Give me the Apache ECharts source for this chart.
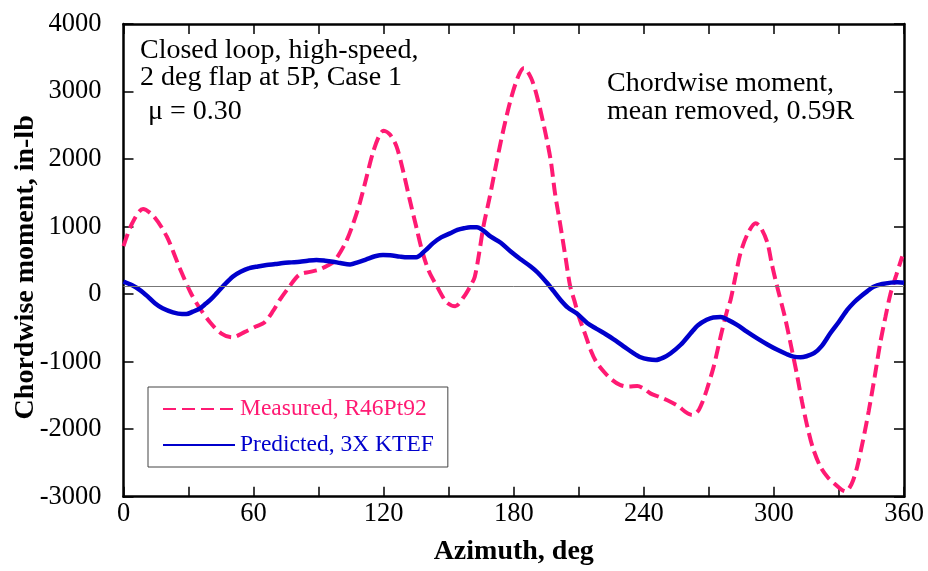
<!DOCTYPE html>
<html>
<head>
<meta charset="utf-8">
<script src="https://cdn.jsdelivr.net/npm/echarts@6/dist/echarts.min.js"></script>
<style>
  html, body { margin: 0; padding: 0; background: #fff; }
  #chart { width: 928px; height: 571px; }
</style>
</head>
<body>
<div id="chart"></div>
<script>
// measured chordwise moment (pink dashed)
var measuredAz = [0, 4, 9, 14, 20, 26, 31, 35, 40, 45, 50, 56, 61, 65, 69, 72, 76, 81, 86, 90,
  94, 97, 100, 103, 106, 109, 112, 115, 118, 120, 123, 126, 129, 132, 135, 138, 141, 144.5, 149, 153,
  157, 160, 162, 164, 166, 169, 172, 175, 178.6, 182, 184.7, 188, 190.7, 194, 197, 199, 201.6, 204, 206, 208,
  210, 213, 215.5, 218, 221.6, 225, 229, 233, 237, 240, 243, 247, 252, 256, 259, 262.3, 265, 267, 269, 272,
  274, 276, 278.5, 280, 282, 284.6, 288, 291.6, 294, 297, 299, 301.5, 305, 308, 310.8, 313, 315.4, 318, 321.5, 325,
  327.7, 331, 333, 335, 336.5, 338.4, 341, 343.8, 346.5, 349, 351.5, 353.8, 356.5, 359.2];
var measuredVal = [710, 1050, 1260, 1150, 850, 380, 20, -200, -420, -580, -640, -560, -480, -420, -250, -90, 90, 285, 330, 360,
  420, 480, 620, 800, 1050, 1350, 1720, 2090, 2350, 2420, 2360, 2180, 1820, 1400, 1000, 610, 330, 120, -120, -180,
  -40, 120, 255, 600, 1000, 1450, 1940, 2400, 2880, 3220, 3350, 3200, 2930, 2480, 1990, 1500, 1000, 520, 120, -100,
  -330, -600, -830, -1000, -1150, -1260, -1345, -1370, -1360, -1400, -1470, -1520, -1590, -1660, -1740, -1790, -1730, -1600, -1420, -1100,
  -830, -550, -235, -86, 220, 610, 900, 1050, 980, 760, 450, 110, -330, -780, -1220, -1600, -1960, -2280, -2560, -2720,
  -2800, -2890, -2920, -2860, -2760, -2560, -2180, -1720, -1220, -730, -330, 10, 290, 560];

// predicted, 3X KTEF (blue solid)
var predictedAz = [0, 4, 7.6, 11, 14.5, 18, 22.8, 27, 29, 32, 35.3, 38, 40, 43, 46, 50.5, 54, 58, 62, 66,
  70, 73.6, 77.5, 81.4, 85, 89, 93, 96.6, 100, 104.5, 108, 112, 116, 119.7, 123, 127.5, 131, 135, 139, 142.8,
  146.5, 150.6, 154, 157, 160, 163, 166, 169.4, 174, 178.6, 183, 187.8, 191, 195.5, 198.5, 201.6, 205, 209, 214, 218,
  223, 227, 231, 235, 238.5, 242, 245.5, 249, 252.4, 257, 261.6, 265, 269, 272, 275.4, 279, 283, 287.5, 292.3, 297,
  301.6, 306, 309, 312.3, 315, 318.5, 322, 326, 330, 333.8, 337, 340, 343, 346, 350, 354, 357, 360];
var predictedVal = [185, 130, 60, -30, -135, -210, -270, -295, -295, -260, -210, -140, -86, 15, 120, 260, 330, 385, 410, 430,
  445, 460, 470, 480, 495, 505, 495, 480, 460, 440, 470, 515, 560, 580, 575, 555, 545, 545, 640, 755,
  840, 900, 950, 975, 990, 990, 940, 850, 760, 630, 520, 410, 320, 160, 40, -86, -200, -285, -430, -510,
  -605, -690, -780, -870, -935, -965, -975, -940, -875, -750, -580, -460, -380, -345, -340, -385, -455, -555, -655, -745,
  -825, -890, -925, -935, -920, -875, -770, -580, -410, -235, -120, -35, 40, 110, 150, 170, 175, 170];

var refLine = 120;

var serif = '"Liberation Serif", "DejaVu Serif", serif';
var pink = '#ff1a73';
var blue = '#0000cc';

function pairs(xs, ys) {
  return xs.map(function (x, i) { return [x, ys[i]]; });
}

var myChart = echarts.init(document.getElementById('chart'));

var axisLineStyle = { color: '#000', width: 2.5 };
var tickStyle = { inside: true, length: 10, lineStyle: { color: '#000', width: 1.5 } };
var textFont = '28px ' + serif;

var option = {
  backgroundColor: '#fff',
  animation: false,
  grid: { left: 123.5, right: 24, top: 24, bottom: 74.3, outerBoundsMode: 'none', containLabel: false },
  xAxis: [
    {
      type: 'value', min: 0, max: 360, interval: 30,
      name: 'Azimuth, deg', nameLocation: 'middle', nameGap: 41, nameMoveOverlap: false,
      nameTextStyle: { fontFamily: serif, fontSize: 28, fontWeight: 'bold', color: '#000' },
      axisLine: { onZero: false, lineStyle: axisLineStyle },
      axisTick: tickStyle,
      axisLabel: {
        fontFamily: serif, fontSize: 26.5, color: '#000', margin: 4,
        formatter: function (v) { return v % 60 === 0 ? String(v) : ''; }
      },
      splitLine: { show: false }
    },
    {
      type: 'value', min: 0, max: 360, interval: 30, position: 'top',
      axisLine: { onZero: false, lineStyle: axisLineStyle },
      axisTick: tickStyle,
      axisLabel: { show: false },
      splitLine: { show: false }
    }
  ],
  yAxis: [
    {
      type: 'value', min: -3000, max: 4000, interval: 1000,
      name: 'Chordwise moment, in-lb', nameLocation: 'middle', nameGap: 84, nameMoveOverlap: false,
      nameTextStyle: { fontFamily: serif, fontSize: 28, fontWeight: 'bold', color: '#000', padding: [0, 14, 0, 0] },
      axisLine: { onZero: false, lineStyle: axisLineStyle },
      axisTick: tickStyle,
      axisLabel: {
        fontFamily: serif, fontSize: 26.5, color: '#000', margin: 22,
        formatter: function (v) { return String(v); }
      },
      splitLine: { show: false }
    },
    {
      type: 'value', min: -3000, max: 4000, interval: 1000, position: 'right',
      axisLine: { show: true, onZero: false, lineStyle: axisLineStyle },
      axisTick: { show: true, inside: true, length: 10, lineStyle: { color: '#000', width: 1.5 } },
      axisLabel: { show: false },
      splitLine: { show: false }
    }
  ],
  legend: {
    orient: 'vertical',
    left: 148, top: 387,
    width: 302,
    padding: [10, 14, 10, 14],
    itemGap: 12,
    itemWidth: 72, itemHeight: 22,
    borderColor: '#444', borderWidth: 1,
    itemStyle: { opacity: 0 },
    textStyle: { fontFamily: serif, fontSize: 23.5 },
    data: [
      { name: 'Measured, R46Pt92', textStyle: { color: pink } },
      { name: 'Predicted, 3X KTEF', textStyle: { color: blue } }
    ]
  },
  graphic: [
    { type: 'text', left: 140, top: 37, style: { text: 'Closed loop, high-speed,', font: textFont, fill: '#000' } },
    { type: 'text', left: 140, top: 64, style: { text: '2 deg flap at 5P, Case 1', font: textFont, fill: '#000' } },
    { type: 'text', left: 148, top: 98, style: { text: 'μ = 0.30', font: textFont, fill: '#000' } },
    { type: 'text', left: 607, top: 70, style: { text: 'Chordwise moment,', font: textFont, fill: '#000' } },
    { type: 'text', left: 607, top: 98, style: { text: 'mean removed, 0.59R', font: textFont, fill: '#000' } }
  ],
  series: [
    {
      name: 'Measured, R46Pt92',
      type: 'line',
      data: pairs(measuredAz, measuredVal),
      smooth: 0.3,
      symbol: 'none',
      lineStyle: { color: pink, width: 4, type: [13, 6] },
      itemStyle: { color: pink },
      z: 3,
      markLine: {
        silent: true,
        symbol: 'none',
        label: { show: false },
        lineStyle: { color: '#777', width: 1, type: 'solid' },
        data: [{ yAxis: refLine }]
      }
    },
    {
      name: 'Predicted, 3X KTEF',
      type: 'line',
      data: pairs(predictedAz, predictedVal),
      smooth: 0.3,
      symbol: 'none',
      lineStyle: { color: blue, width: 4.5, type: 'solid' },
      itemStyle: { color: blue },
      z: 4
    }
  ]
};

myChart.setOption(option);
</script>
</body>
</html>
